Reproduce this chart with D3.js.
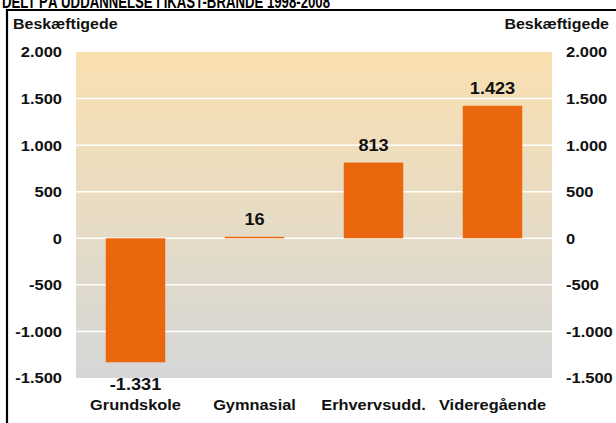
<!DOCTYPE html>
<html><head><meta charset="utf-8">
<script src="https://cdn.jsdelivr.net/npm/d3@7"></script>
<style>body{margin:0;background:#fff;}svg{display:block;font-family:Arial,"Liberation Sans",sans-serif;}</style>
</head><body>
<svg id="c" width="616" height="423"></svg>
<script>
const chartTitle = "DELT PÅ UDDANNELSE I IKAST-BRANDE 1998-2008";
const unitLabel = "Beskæftigede";
const categories = ["Grundskole", "Gymnasial", "Erhvervsudd.", "Videregående"];
const values = [-1331, 16, 813, 1423];
const tickValues = [-1500, -1000, -500, 0, 500, 1000, 1500, 2000];

const svg = d3.select("#c");
const m = {l: 76, r: 552, t: 52, b: 378};
const fmt = v => d3.format(",")(v).replace(/,/g, ".").replace("\u2212", "-");
const SX = 1.15;

const defs = svg.append("defs");
const grad = defs.append("linearGradient").attr("id","bg").attr("x1",0).attr("y1",0).attr("x2",0).attr("y2",1);
grad.append("stop").attr("offset","0%").attr("stop-color","#FAE0B0");
grad.append("stop").attr("offset","100%").attr("stop-color","#D5D7D8");

function stext(sel, x, y, size, anchor, s) {
  return sel.append("text").attr("transform", `translate(${x},${y}) scale(${s||SX},1)`)
    .attr("font-size", size).attr("font-weight", "bold").attr("fill", "#111")
    .attr("text-anchor", anchor || "start");
}

// title (cropped at top, as in the reference)
svg.append("text").attr("x",2).attr("y",7.5).attr("font-size",18).attr("font-weight","bold").attr("fill","#000")
  .attr("textLength",328).attr("lengthAdjust","spacingAndGlyphs").text(chartTitle);
// frame
svg.append("path").attr("d","M7,423 V10 H616").attr("fill","none").attr("stroke","#000").attr("stroke-width",2.2);

const y = d3.scaleLinear().domain([-1500, 2000]).range([m.b, m.t]);
const x = d3.scaleBand().domain(categories).range([m.l, m.r]).paddingInner(0.5).paddingOuter(0.25);

svg.append("rect").attr("x",m.l).attr("y",m.t).attr("width",m.r-m.l).attr("height",m.b-m.t).attr("fill","url(#bg)");

svg.append("g").selectAll("line").data(tickValues.filter(d=>d>-1500 && d<2000)).join("line")
  .attr("x1",m.l).attr("x2",m.r).attr("y1",d=>y(d)).attr("y2",d=>y(d))
  .attr("stroke","#fff").attr("stroke-width",1.5);

svg.append("g").selectAll("rect").data(values).join("rect")
  .attr("x",(d,i)=>x(categories[i])).attr("width",x.bandwidth())
  .attr("y",d=>y(Math.max(0,d))).attr("height",d=>Math.max(1.5,Math.abs(y(d)-y(0))))
  .attr("fill","#EA670D");

const vl = svg.append("g");
values.forEach((d,i)=>{
  const cx = x(categories[i]) + x.bandwidth()/2;
  const cy = d < 0 ? y(d) + 28 : y(d) - 11.5;
  stext(vl, cx, cy, 16.5, "middle", 1.1).text(fmt(d));
});

const axL = d3.axisLeft(y).tickValues(tickValues).tickSize(0).tickPadding(0).tickFormat(fmt);
const gl = svg.append("g").attr("transform","translate(62,0)").call(axL);
const axR = d3.axisRight(y).tickValues(tickValues).tickSize(0).tickPadding(0).tickFormat(fmt);
const gr = svg.append("g").attr("transform","translate(566,0)").call(axR);
[gl,gr].forEach(a=>{a.select(".domain").remove();
  a.selectAll("text").attr("x",0).attr("font-size",14).attr("font-weight","bold").attr("fill","#111")
   .attr("font-family","Arial,'Liberation Sans',sans-serif").attr("dy","0.35em")
   .attr("transform",`scale(1.18,1)`);});

stext(svg, 13, 29, 14, "start", 1.14).text(unitLabel);
stext(svg, 609, 29, 14, "end", 1.14).text(unitLabel);

const cl = svg.append("g");
categories.forEach(c=>{
  stext(cl, x(c)+x.bandwidth()/2, 409.5, 14, "middle", 1.17).text(c);
});
</script>
</body></html>
